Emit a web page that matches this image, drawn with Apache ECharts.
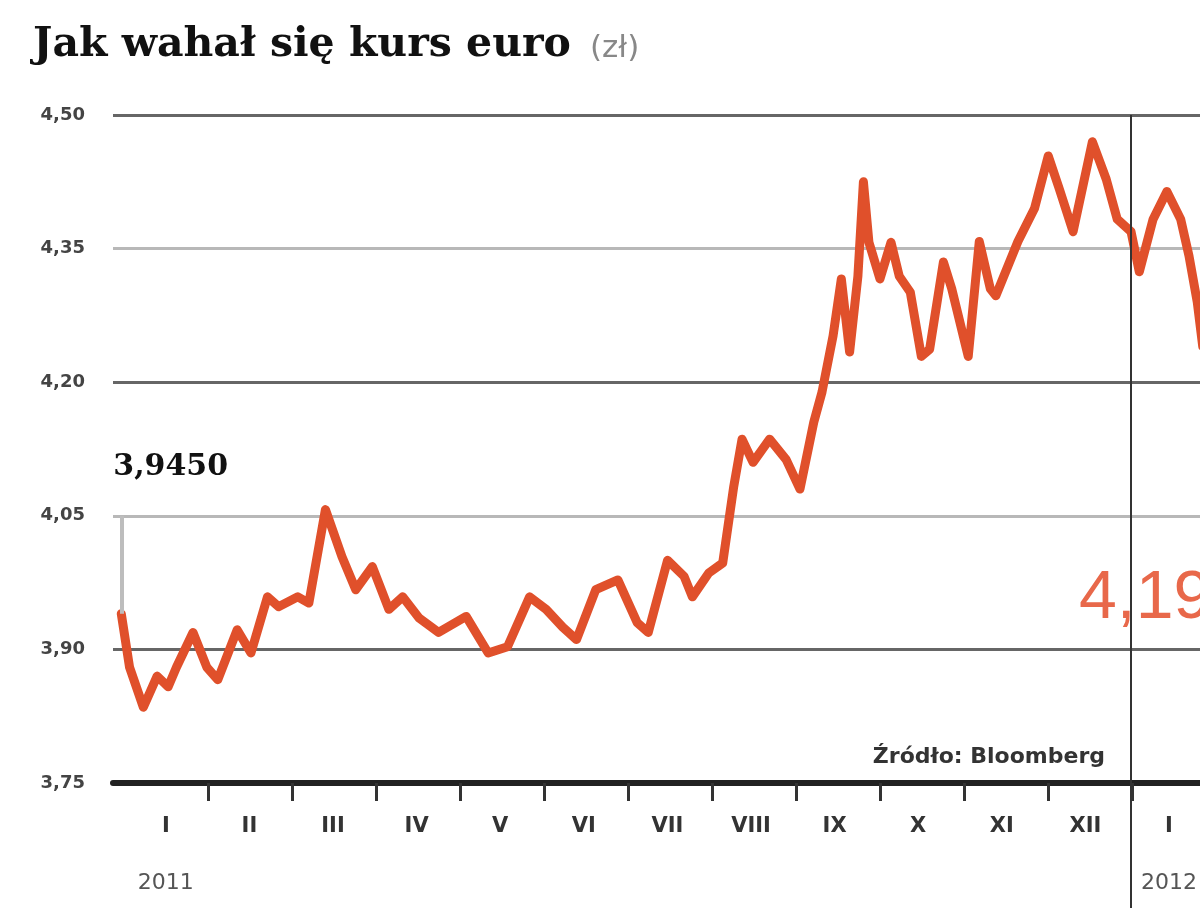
<!DOCTYPE html>
<html><head><meta charset="utf-8">
<script src="https://cdn.jsdelivr.net/npm/echarts@6/dist/echarts.min.js"></script>
<style>html,body{margin:0;padding:0;background:#fff}#c{width:1200px;height:923px}</style>
</head><body><div id="c"></div>
<script>
const dates = ['2010-12-31','2011-01-03','2011-01-08','2011-01-13','2011-01-17','2011-01-20','2011-01-26','2011-01-31',
'2011-02-04','2011-02-11','2011-02-16','2011-02-22','2011-02-26','2011-03-05','2011-03-09','2011-03-15','2011-03-21',
'2011-03-26','2011-04-01','2011-04-07','2011-04-12','2011-04-18','2011-04-25','2011-05-05','2011-05-13','2011-05-20',
'2011-05-28','2011-06-03','2011-06-09','2011-06-14','2011-06-21','2011-06-29','2011-07-06','2011-07-10','2011-07-17',
'2011-07-23','2011-07-26','2011-08-01','2011-08-06','2011-08-10','2011-08-13','2011-08-17','2011-08-23','2011-08-29',
'2011-09-03','2011-09-08','2011-09-11','2011-09-15','2011-09-18','2011-09-21','2011-09-24','2011-09-26','2011-09-28',
'2011-10-02','2011-10-06','2011-10-09','2011-10-13','2011-10-17','2011-10-20','2011-10-25','2011-10-28','2011-11-03',
'2011-11-07','2011-11-11','2011-11-13','2011-11-21','2011-11-27','2011-12-02','2011-12-06','2011-12-11','2011-12-18',
'2011-12-23','2011-12-27','2012-01-01','2012-01-04','2012-01-09','2012-01-14','2012-01-19','2012-01-22','2012-01-25','2012-01-27'];
const rates = [3.940,3.880,3.835,3.870,3.858,3.880,3.919,3.880,
3.866,3.922,3.896,3.959,3.948,3.959,3.952,4.057,4.004,
3.967,3.993,3.945,3.959,3.935,3.919,3.937,3.896,3.903,
3.959,3.945,3.925,3.911,3.967,3.978,3.930,3.919,4.000,
3.982,3.959,3.986,3.997,4.083,4.136,4.110,4.136,4.113,
4.080,4.155,4.189,4.252,4.316,4.234,4.319,4.425,4.357,
4.316,4.357,4.319,4.301,4.229,4.237,4.335,4.305,4.229,
4.358,4.305,4.297,4.358,4.395,4.454,4.417,4.369,4.470,
4.428,4.383,4.369,4.324,4.383,4.414,4.383,4.342,4.290,4.240];
const yMin = 3.75, yMax = 4.50, yStep = 0.15;
const monthLabels = ['I','II','III','IV','V','VI','VII','VIII','IX','X','XI','XII','I'];
const yearLabels = {0: '2011', 12: '2012'};
const startLabel = '3,9450';
const lastLabel = '4,19';
const sourceText = 'Źródło: Bloomberg';
const titleText = 'Jak wahał się kurs euro';
const unitText = '(zł)';
const axisStart = '2010-12-28', axisEnd = '2012-01-26', yearBreak = '2012-01-01';
const monthsMax = 12 + 25 / 31;
const pxPerMonth = 1076 / monthsMax;

const chart = echarts.init(document.getElementById('c'), null, {renderer: 'canvas'});
const seriesData = dates.map((d, i) => [d, rates[i]]);
const fmt = v => v.toFixed(2).replace('.', ',');
const halfLabel = arr => v => { const k = Math.round(v * 2); return (k % 2 === 1 && Math.abs(v * 2 - k) < 1e-6) ? (arr[(k - 1) / 2] || '') : ''; };

chart.setOption({
  animation: false,
  backgroundColor: '#fff',
  title: [
    {left: 28, top: 20, text: '{a|' + titleText + '} {b|' + unitText + '}',
     textStyle: {rich: {
       a: {fontFamily: 'DejaVu Serif', fontWeight: 'bold', fontSize: 41, color: '#111'},
       b: {fontFamily: 'DejaVu Sans', fontWeight: 'normal', fontSize: 31, color: '#888', padding: [6, 0, 0, 14]}
     }}},
    {right: 90, top: 741, text: sourceText,
     textStyle: {fontFamily: 'DejaVu Sans', fontSize: 22, fontWeight: 'bold', color: '#333'}},
    {left: 1074, top: 560, text: lastLabel,
     textStyle: {fontFamily: 'Liberation Sans', fontSize: 68, fontWeight: 'normal', color: '#e8684a'}}
  ],
  grid: [
    {left: 113, right: 0, top: 115, bottom: 140},
    {left: 124, right: 0, top: 115, bottom: 140},
    {left: 113, right: 0, top: 115, bottom: 15},
    {left: 124 + pxPerMonth, right: 1200 - (124 + 12 * pxPerMonth), top: 115, bottom: 140}
  ],
  xAxis: [
    {type: 'time', gridIndex: 0, min: axisStart, max: axisEnd, position: 'bottom',
     axisLine: {show: true, lineStyle: {color: '#222', width: 6}},
     axisTick: {show: false}, axisLabel: {show: false}, splitLine: {show: false}},
    {type: 'value', gridIndex: 3, min: 0, max: 11, interval: 1, position: 'bottom',
     axisLine: {show: false}, axisTick: {show: true, length: 18, lineStyle: {color: '#333', width: 3}},
     axisLabel: {show: false}, splitLine: {show: false}},
    {type: 'value', gridIndex: 1, min: 0, max: monthsMax, interval: 0.5, position: 'bottom',
     axisLine: {show: false}, axisTick: {show: false}, splitLine: {show: false},
     axisLabel: {show: true, margin: 33, fontFamily: 'DejaVu Sans', fontWeight: 'bold', fontSize: 21, color: '#333',
       formatter: halfLabel(monthLabels)}},
    {type: 'value', gridIndex: 1, min: 0, max: monthsMax, interval: 0.5, position: 'bottom',
     axisLine: {show: false}, axisTick: {show: false}, splitLine: {show: false},
     axisLabel: {show: true, margin: 89, fontFamily: 'DejaVu Sans', fontSize: 22, color: '#555',
       formatter: halfLabel(monthLabels.map((m, i) => yearLabels[i] || ''))}},
    {type: 'time', gridIndex: 2, min: axisStart, max: axisEnd, show: false}
  ],
  yAxis: [
    {type: 'value', gridIndex: 0, min: yMin, max: yMax, interval: yStep,
     axisLine: {show: false}, axisTick: {show: false},
     axisLabel: {margin: 28, fontFamily: 'DejaVu Sans', fontWeight: 'bold', fontSize: 18, color: '#444', formatter: fmt},
     splitLine: {show: true, lineStyle: {color: ['#b8b8b8', '#666'], width: 3}}},
    {type: 'value', gridIndex: 1, min: 0, max: 1, show: false},
    {type: 'value', gridIndex: 2, min: 0, max: 1, show: false},
    {type: 'value', gridIndex: 3, min: 0, max: 1, show: false}
  ],
  series: [
    {type: 'line', xAxisIndex: 4, yAxisIndex: 2, data: [], silent: true,
     markLine: {silent: true, symbol: 'none', label: {show: false},
       lineStyle: {color: '#333', width: 2, type: 'solid'}, data: [{xAxis: yearBreak}]}},
    {type: 'line', xAxisIndex: 0, yAxisIndex: 0, data: seriesData, showSymbol: false, symbol: 'none',
     lineStyle: {color: '#e0502b', width: 9, join: 'round', cap: 'round'},
     markLine: {silent: true, symbol: 'none', label: {show: false},
       lineStyle: {color: '#bdbdbd', width: 4, type: 'solid'},
       data: [[{coord: [dates[0], rates[0]]}, {coord: [dates[0], 4.05]}]]},
     markPoint: {silent: true, symbol: 'circle', symbolSize: 0,
       data: [{coord: [dates[0], 4.105], value: startLabel}],
       label: {show: true, position: 'inside', align: 'left', offset: [-8, 0], formatter: startLabel,
         fontFamily: 'DejaVu Serif', fontWeight: 'bold', fontSize: 30, color: '#111'}}}
  ]
});
</script></body></html>
